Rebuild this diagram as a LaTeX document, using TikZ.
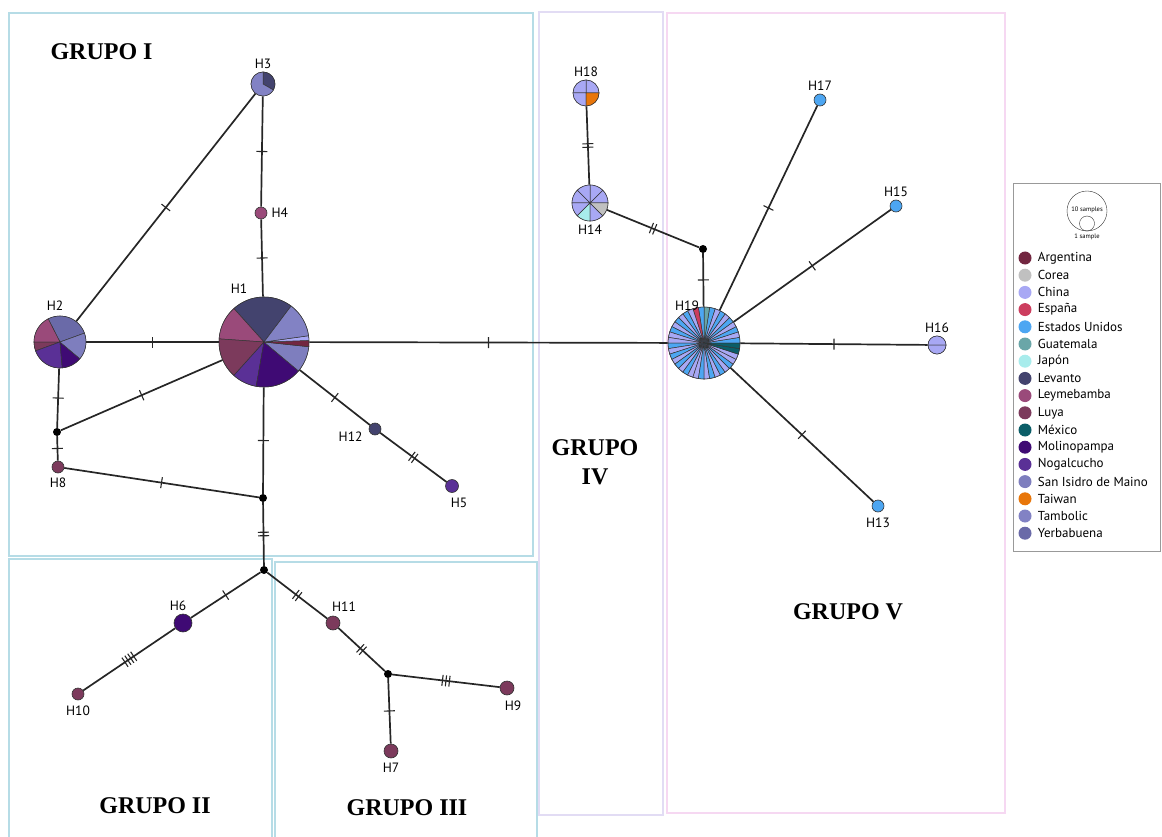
\documentclass[tikz,border=0pt]{standalone}
\usepackage{fontspec}
\setmainfont{Liberation Serif}
\setsansfont{PT Sans}
\usepackage{xcolor}
\usetikzlibrary{
    positioning,
    decorations.markings,
}

\definecolor{argentina}{HTML}{722640}
\definecolor{corea}{HTML}{C0C0C0}
\definecolor{china}{HTML}{A8A8F4}
\definecolor{espana}{HTML}{CC3D5E}
\definecolor{eeuu}{HTML}{4DA6F2}
\definecolor{guatemala}{HTML}{6AA6A8}
\definecolor{japon}{HTML}{A8ECEC}
\definecolor{levanto}{HTML}{43436E}
\definecolor{leymebamba}{HTML}{9A4A7A}
\definecolor{luya}{HTML}{7C3A5C}
\definecolor{mexico}{HTML}{0B5E68}
\definecolor{molinopampa}{HTML}{3F0A74}
\definecolor{nogalcucho}{HTML}{5A3096}
\definecolor{sanisidro}{HTML}{7E7EBE}
\definecolor{taiwan}{HTML}{E8760A}
\definecolor{tambolic}{HTML}{8282C4}
\definecolor{yerbabuena}{HTML}{6A6AA8}
\definecolor{boxblue}{HTML}{B6DCE6}
\definecolor{boxlila}{HTML}{E2DCF4}
\definecolor{boxpink}{HTML}{F6D8F2}

\begin{document}
\begin{tikzpicture}[
        x=1pt, y=-1pt,
        edge/.style={line width=1.7pt, black!85},
        tick/.style={line width=1.1pt, black!85},
        muts/.style={postaction={decorate, decoration={markings,
            mark=at position 0.5 with {\foreach \k in {1,...,#1}
                \draw[tick] ({(\k-(#1+1)/2)*3.5pt},-5.5pt) -- ++(0,11pt);}}}},
        hap/.style={
            circle, draw=black!80, line width=0.6pt,
            inner sep=0pt, minimum size=12pt
        },
        median/.style={circle, fill=black, inner sep=0pt, minimum size=8pt},
        slice/.style={draw=black!80, line width=0.5pt},
        lab/.style={font=\sffamily\fontsize{13.5}{14}\selectfont, inner sep=0pt},
        grp/.style={font=\bfseries\fontsize{24}{29}\selectfont, align=center},
        box/.style={line width=1.5pt},
        legdot/.style={circle, inner sep=0pt, minimum size=13pt},
        legtext/.style={font=\sffamily\fontsize{13}{13}\selectfont, inner sep=0pt},
        tiny/.style={font=\sffamily\fontsize{6.5}{6.5}\selectfont, inner sep=0pt},
    ]

    \useasboundingbox (0,0) rectangle (1162,837);

    % ── Group boxes ──
    \draw[box, boxblue] (9,13) rectangle (533,556);
    \draw[box, boxblue] (9,559) rectangle (272,845);
    \draw[box, boxblue] (275,562) rectangle (537,845);
    \draw[box, boxlila] (539,12) rectangle (663,815);
    \draw[box, boxpink] (667,13) rectangle (1005,813);

    \node[grp, anchor=west] (gI) at (47,52) {GRUPO I};
    \node[grp] (gII) at (155,806) {GRUPO II};
    \node[grp] (gIII) at (407,808) {GRUPO III};
    \node[grp] (gIV) at (595,462) {GRUPO\\IV};
    \node[grp] (gV) at (848,612) {GRUPO V};

    % ── Haplotypes, group I ──
    \node[hap, minimum size=90pt] (H1) at (264,342) {};
    \node[hap, minimum size=52pt] (H2) at (60,342) {};
    \node[hap, minimum size=24pt] (H3) at (263,84) {};
    \node[hap, fill=leymebamba] (H4) at (261,213) {};
    \node[hap, fill=levanto] (H12) at (375,429) {};
    \node[hap, minimum size=13pt, fill=nogalcucho] (H5) at (452,486) {};
    \node[hap, fill=luya] (H8) at (58,467) {};
    \node[median] (m1) at (57,432) {};
    \node[median] (m2) at (263,498) {};

    % ── Haplotypes, groups II and III ──
    \node[median] (m3) at (264,570) {};
    \node[hap, minimum size=18pt, fill=molinopampa] (H6) at (183,623) {};
    \node[hap, fill=luya] (H10) at (78,694) {};
    \node[hap, minimum size=14pt, fill=luya] (H11) at (333,623) {};
    \node[median] (m4) at (388,674) {};
    \node[hap, minimum size=14pt, fill=luya] (H9) at (507,688) {};
    \node[hap, minimum size=14pt, fill=luya] (H7) at (391,751) {};

    % ── Haplotypes, groups IV and V ──
    \node[hap, minimum size=26pt] (H18) at (586,93) {};
    \node[hap, minimum size=36pt] (H14) at (590,203) {};
    \node[median] (m5) at (703,249) {};
    \node[hap, minimum size=72pt] (H19) at (704,343) {};
    \node[hap, fill=eeuu] (H17) at (820,100) {};
    \node[hap, fill=eeuu] (H15) at (896,206) {};
    \node[hap, minimum size=18pt, fill=china] (H16) at (937,345) {};
    \node[hap, fill=eeuu] (H13) at (878,506) {};

    % ── Connections ──
    \draw[edge, muts=1] (H3) -- (H2);
    \draw[edge, muts=1] (H3) -- (H4);
    \draw[edge, muts=1] (H4) -- (H1);
    \draw[edge, muts=1] (H2) -- (H1);
    \draw[edge, muts=1] (H2) -- (m1);
    \draw[edge, muts=1] (m1) -- (H1);
    \draw[edge, muts=1] (m1) -- (H8);
    \draw[edge, muts=1] (H8) -- (m2);
    \draw[edge, muts=1] (H1) -- (m2);
    \draw[edge, muts=1] (H1) -- (H12);
    \draw[edge, muts=2] (H12) -- (H5);
    \draw[edge, muts=2] (m2) -- (m3);
    \draw[edge, muts=1] (m3) -- (H6);
    \draw[edge, muts=4] (H6) -- (H10);
    \draw[edge, muts=2] (m3) -- (H11);
    \draw[edge, muts=2] (H11) -- (m4);
    \draw[edge, muts=3] (m4) -- (H9);
    \draw[edge, muts=1] (m4) -- (H7);
    \draw[edge, muts=1] (H1) -- (H19);
    \draw[edge, muts=1] (H19) -- (m5);
    \draw[edge, muts=2] (m5) -- (H14);
    \draw[edge, muts=2] (H14) -- (H18);
    \draw[edge, muts=1] (H19) -- (H17);
    \draw[edge, muts=1] (H19) -- (H15);
    \draw[edge, muts=1] (H19) -- (H16);
    \draw[edge, muts=1] (H19) -- (H13);

    % ── Pie charts ──
    \foreach \a/\b/\c in {53/132/levanto, 132/176/leymebamba, 176/228/luya,
            228/260/nogalcucho, 260/320/molinopampa, 320/354/sanisidro,
            354/362/argentina, 362/368/china, 368/413/tambolic}
        \draw[slice, fill=\c] (H1.center) -- ++(\a:45pt)
            arc[start angle=\a, end angle=\b, radius=45pt] -- cycle;
    \foreach \a/\b/\c in {20/117/yerbabuena, 117/180/leymebamba, 180/200/luya,
            200/275/nogalcucho, 275/320/molinopampa, 320/380/sanisidro}
        \draw[slice, fill=\c] (H2.center) -- ++(\a:26pt)
            arc[start angle=\a, end angle=\b, radius=26pt] -- cycle;
    \foreach \a/\b/\c in {-30/90/levanto, 90/330/tambolic}
        \draw[slice, fill=\c] (H3.center) -- ++(\a:12pt)
            arc[start angle=\a, end angle=\b, radius=12pt] -- cycle;
    \foreach \a/\b/\c in {0/90/china, 90/180/china, 180/270/china, 270/360/taiwan}
        \draw[slice, fill=\c] (H18.center) -- ++(\a:13pt)
            arc[start angle=\a, end angle=\b, radius=13pt] -- cycle;
    \foreach \a/\b/\c in {0/45/china, 45/90/china, 90/135/china, 135/180/china,
            180/225/china, 225/270/japon, 270/315/china, 315/360/corea}
        \draw[slice, fill=\c] (H14.center) -- ++(\a:18pt)
            arc[start angle=\a, end angle=\b, radius=18pt] -- cycle;
    \foreach \a/\b/\c in {0/180/china, 180/360/china}
        \draw[slice, fill=\c] (H16.center) -- ++(\a:9pt)
            arc[start angle=\a, end angle=\b, radius=9pt] -- cycle;
    \foreach \c [count=\i from 0] in {eeuu, china, eeuu, china, eeuu, china, eeuu,
            china, eeuu, guatemala, eeuu, espana, china, eeuu, china, eeuu, china,
            eeuu, china, china, eeuu, china, eeuu, china, eeuu, china, eeuu, china,
            china, eeuu, china, eeuu, china, eeuu, china, eeuu, china, china,
            mexico, mexico}
        \draw[slice, fill=\c] (H19.center) -- ++(\i*9:36pt)
            arc[start angle=\i*9, end angle=\i*9+9, radius=36pt] -- cycle;

    % ── Haplotype labels ──
    \node[lab, above=3pt of H1, xshift=-25pt] (lH1) {H1};
    \node[lab, above=5pt of H2, xshift=-5pt] (lH2) {H2};
    \node[lab, above=3pt of H3] (lH3) {H3};
    \node[lab, right=4pt of H4] (lH4) {H4};
    \node[lab, left=6pt of H12, yshift=-8pt] (lH12) {H12};
    \node[lab, below=5pt of H5, xshift=7pt] (lH5) {H5};
    \node[lab, below=4pt of H8] (lH8) {H8};
    \node[lab, above=3pt of H6, xshift=-5pt] (lH6) {H6};
    \node[lab, below=5pt of H10] (lH10) {H10};
    \node[lab, above=4pt of H11, xshift=11pt] (lH11) {H11};
    \node[lab, below=5pt of H9, xshift=6pt] (lH9) {H9};
    \node[lab, below=5pt of H7] (lH7) {H7};
    \node[lab, above=3pt of H18] (lH18) {H18};
    \node[lab, below=3pt of H14] (lH14) {H14};
    \node[lab, above=-4pt of H19, xshift=-17pt] (lH19) {H19};
    \node[lab, above=3pt of H17] (lH17) {H17};
    \node[lab, above=3pt of H15] (lH15) {H15};
    \node[lab, above=3pt of H16] (lH16) {H16};
    \node[lab, below=5pt of H13] (lH13) {H13};

    % ── Legend ──
    \draw[gray!80, line width=1pt] (1013,184) rectangle (1160,551);
    \node[circle, draw=black!80, minimum size=40pt, inner sep=0pt] (ten) at (1087,211) {};
    \node[circle, draw=black!80, minimum size=15pt, inner sep=0pt, anchor=south]
        (one) at (ten.south) {};
    \node[tiny] (tenlab) at (1087,210) {10 samples};
    \node[tiny, below=2pt of ten] (onelab) {1 sample};
    \foreach \n/\c [count=\i from 0] in {Argentina/argentina, Corea/corea,
            China/china, España/espana, Estados Unidos/eeuu, Guatemala/guatemala,
            Japón/japon, Levanto/levanto, Leymebamba/leymebamba, Luya/luya,
            México/mexico, Molinopampa/molinopampa, Nogalcucho/nogalcucho,
            San Isidro de Maino/sanisidro, Taiwan/taiwan, Tambolic/tambolic,
            Yerbabuena/yerbabuena} {
        \node[legdot, fill=\c] (ld\i) at (1025, 258+\i*17.2) {};
        \node[legtext, right=6pt of ld\i] (lt\i) {\n};
    }

\end{tikzpicture}
\end{document}
